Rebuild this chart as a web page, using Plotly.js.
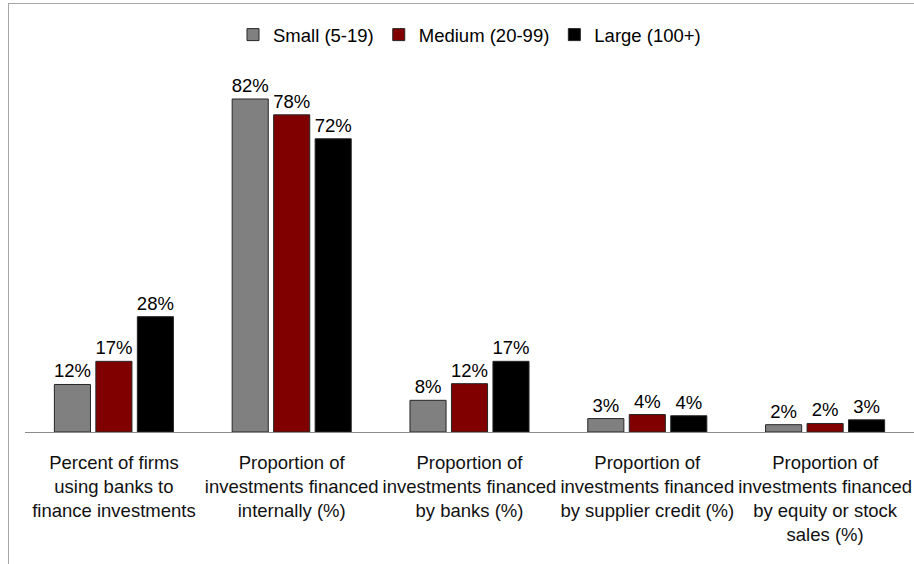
<!DOCTYPE html>
<html>
<head>
<meta charset="utf-8">
<script src="https://cdn.plot.ly/plotly-3.0.1.min.js"></script>
<style>
html,body{margin:0;padding:0;background:#fff;}
#frame{position:absolute;left:8px;top:3px;width:920px;height:580px;border-left:1px solid #a6a6a6;border-top:1px solid #a6a6a6;}
#chart{position:absolute;left:0;top:0;width:914px;height:564px;}
</style>
</head>
<body>
<div id="frame"></div>
<div id="chart"></div>
<script>
var categories = [
  "Percent of firms<br>using banks to<br>finance investments",
  "Proportion of<br>investments financed<br>internally (%)",
  "Proportion of<br>investments financed<br>by banks (%)",
  "Proportion of<br>investments financed<br>by supplier credit (%)",
  "Proportion of<br>investments financed<br>by equity or stock<br>sales (%)"
];
var seriesNames = ["Small (5-19)", "Medium (20-99)", "Large (100+)"];
var smallVals = [11.7, 82.0, 7.8, 3.3, 1.8];
var mediumVals = [17.4, 78.1, 11.9, 4.3, 2.1];
var largeVals = [28.4, 72.2, 17.4, 4.0, 3.0];
var colors = ["#808080", "#800000", "#000000"];

var FONT = "'Liberation Sans', Arial, sans-serif";

var allVals = [smallVals, mediumVals, largeVals];
var traces = allVals.map(function(v, i){
  return {
    type: "bar",
    name: seriesNames[i],
    x: categories,
    y: v,
    marker: {color: colors[i], line: {color: "#262626", width: 1}},
    texttemplate: "%{y:.0f}%",
    textposition: "outside",
    constraintext: "none",
    textfont: {family: FONT, size: 18.5, color: "#000"},
    cliponaxis: false,
    hoverinfo: "skip"
  };
});

var layout = {
  width: 914, height: 564,
  margin: {l: 25, r: 0, t: 60, b: 132},
  paper_bgcolor: "rgba(0,0,0,0)",
  plot_bgcolor: "rgba(0,0,0,0)",
  font: {family: FONT, size: 18.5, color: "#111"},
  barmode: "group",
  bargap: 0.3,
  bargroupgap: 0.13,
  showlegend: true,
  legend: {orientation: "h", x: 0.5, xanchor: "center", y: 1.067, yanchor: "middle",
           font: {family: FONT, size: 18.5, color: "#000"}, itemwidth: 30, traceorder: "normal"},
  xaxis: {showline: true, linecolor: "#8c8c8c", linewidth: 1, ticks: "", ticklabelstandoff: 14,
          tickangle: 0, tickfont: {family: FONT, size: 18.5, color: "#111"},
          showgrid: false, zeroline: false},
  yaxis: {range: [0, 91.6], visible: false, showgrid: false, zeroline: false}
};

Plotly.newPlot("chart", traces, layout, {displayModeBar: false, staticPlot: true});
</script>
</body>
</html>
